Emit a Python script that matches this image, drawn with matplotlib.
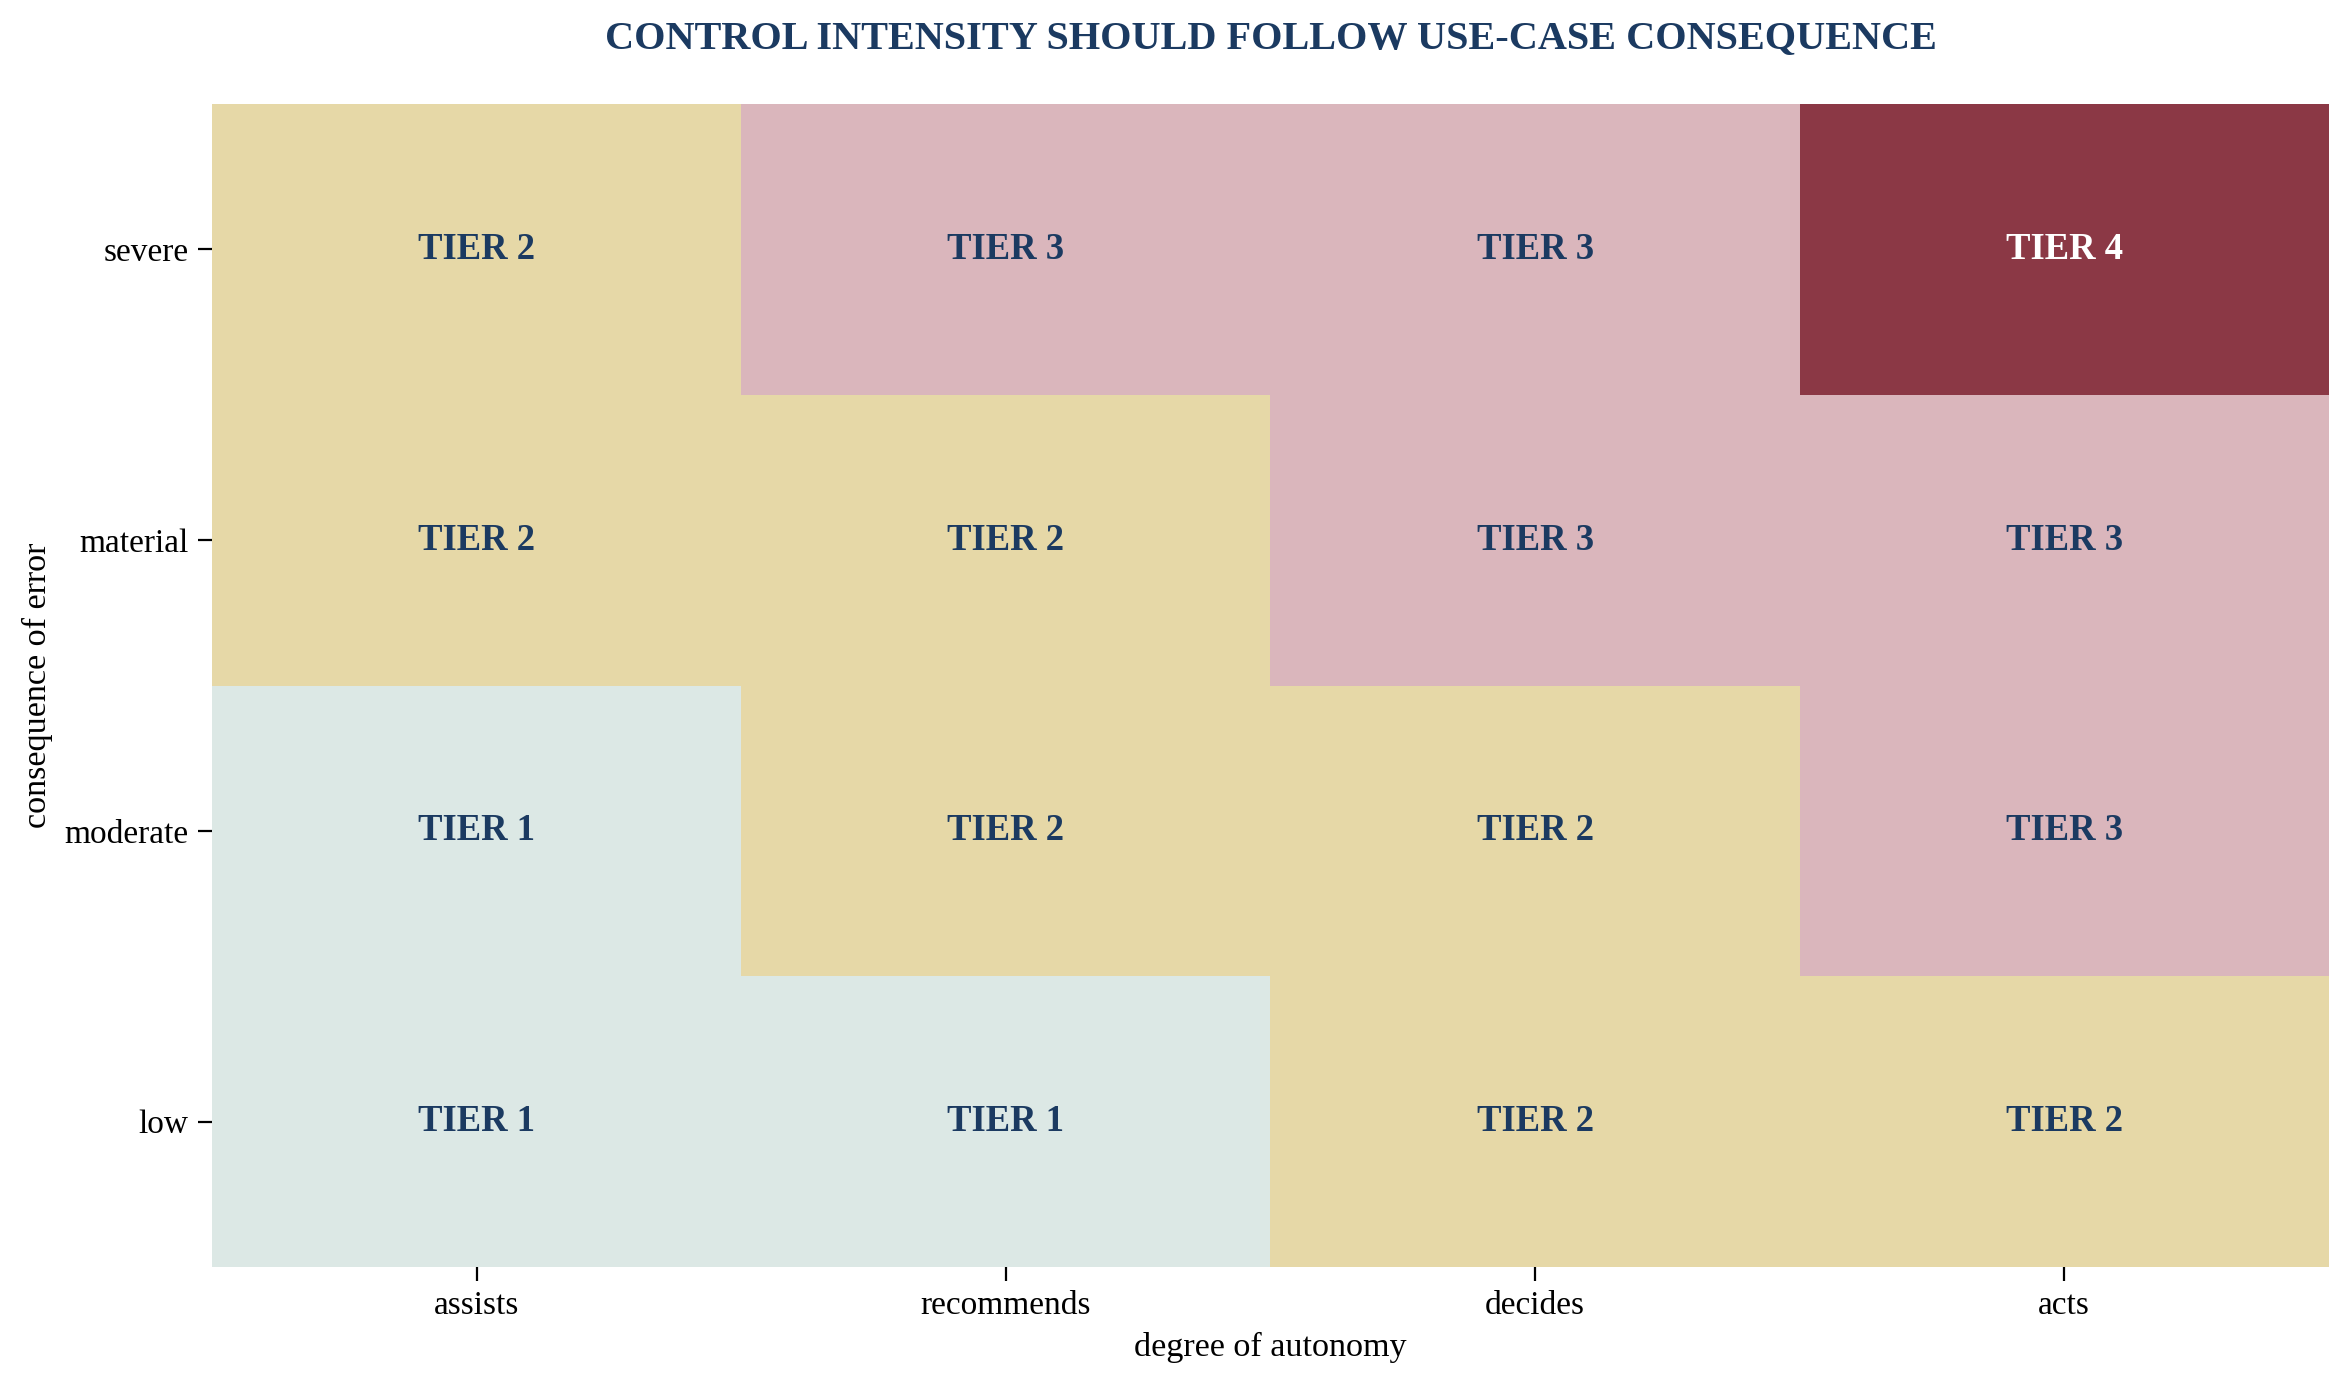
import numpy as np
import matplotlib
matplotlib.use("Agg")
import matplotlib.pyplot as plt
from matplotlib.colors import ListedColormap, BoundaryNorm

plt.rcParams['font.family'] = ['Liberation Serif', 'DejaVu Serif']

# data
autonomy = ['assists', 'recommends', 'decides', 'acts']
consequence = ['low', 'moderate', 'material', 'severe']
tier_low = [1, 1, 2, 2]
tier_moderate = [1, 2, 2, 3]
tier_material = [2, 2, 3, 3]
tier_severe = [2, 3, 3, 4]

tiers = np.array([tier_low, tier_moderate, tier_material, tier_severe])

navy = '#1b3a61'
tier_colors = ['#dce8e5', '#e6d8a7', '#dab6bc', '#8b3845']
cmap = ListedColormap(tier_colors)
norm = BoundaryNorm([0.5, 1.5, 2.5, 3.5, 4.5], cmap.N)

fig = plt.figure(figsize=(2351 / 200, 1385 / 200), dpi=200)
ax = fig.add_axes([0.0902, 0.0852, 0.9004, 0.8397])

ax.pcolormesh(np.arange(len(autonomy) + 1) - 0.5,
              np.arange(len(consequence) + 1) - 0.5,
              tiers, cmap=cmap, norm=norm)

for i in range(len(consequence)):
    for j in range(len(autonomy)):
        t = tiers[i, j]
        ax.text(j, i, f'TIER {t}', ha='center', va='center',
                fontsize=13.2, fontweight='bold',
                color='white' if t == 4 else navy)

ax.set_xticks(range(len(autonomy)))
ax.set_xticklabels(autonomy)
ax.set_yticks(range(len(consequence)))
ax.set_yticklabels(consequence)
ax.tick_params(labelsize=12, length=5, width=0.8)
ax.set_xlim(-0.5, len(autonomy) - 0.5)
ax.set_ylim(-0.5, len(consequence) - 0.5)
for s in ax.spines.values():
    s.set_visible(False)

ax.set_xlabel('degree of autonomy', fontsize=12.3)
ax.set_ylabel('consequence of error', fontsize=12.3)
ax.set_title('CONTROL INTENSITY SHOULD FOLLOW USE-CASE CONSEQUENCE',
             fontsize=14.5, fontweight='bold', color=navy, pad=20)

fig.savefig('out.png', dpi=200)
